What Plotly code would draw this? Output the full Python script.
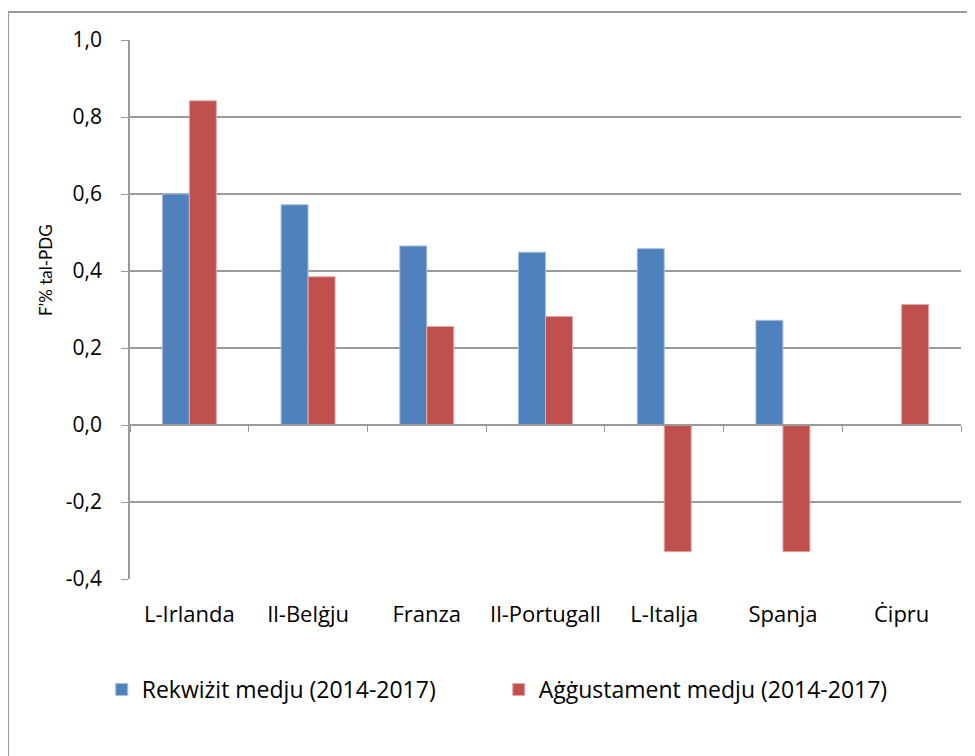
import plotly.graph_objects as go

categories = ["L-Irlanda", "Il-Belġju", "Franza", "Il-Portugall", "L-Italja", "Spanja", "Ċipru"]
rekwizit = [0.60, 0.572, 0.465, 0.449, 0.458, 0.272, None]
aggustament = [0.842, 0.385, 0.256, 0.282, -0.329, -0.329, 0.313]
series_names = ["Rekwiżit medju (2014-2017)", "Aġġustament medju (2014-2017)"]
y_ticks = [-0.4, -0.2, 0.0, 0.2, 0.4, 0.6, 0.8, 1.0]
y_tick_labels = ["-0,4", "-0,2", "0,0", "0,2", "0,4", "0,6", "0,8", "1,0"]

FONT = "Open Sans"
GRID = "#9a9a9a"

# page body has an 8px margin; size the figure to fit in the window
W, H = 967, 748
L, T = 122, 32
PW, PH = 831, 539

fig = go.Figure()
fig.add_trace(go.Bar(
    x=categories, y=rekwizit, name=series_names[0],
    marker=dict(color="#4F81BD", line=dict(color="#A9C0E0", width=1)),
))
fig.add_trace(go.Bar(
    x=categories, y=aggustament, name=series_names[1],
    marker=dict(color="#C0504D", line=dict(color="#E3A9A7", width=1)),
))
# helper (invisible) trace for a category-boundary axis drawn at y = 0
fig.add_trace(go.Scatter(
    x=[-0.5, len(categories) - 0.5], y=[0, 0], xaxis="x2", mode="lines",
    line=dict(width=0, color="rgba(0,0,0,0)"), showlegend=False, hoverinfo="skip",
))

ymin, ymax = y_ticks[0], y_ticks[-1]
zero_pos = (0 - ymin) / (ymax - ymin)

fig.update_layout(
    width=W, height=H,
    margin=dict(l=L, r=W - L - PW, t=T, b=H - T - PH, autoexpand=False),
    paper_bgcolor="white", plot_bgcolor="white",
    barmode="group", bargap=0.545, bargroupgap=0,
    font=dict(family=FONT, size=21, color="#000000"),
    xaxis=dict(
        type="category", categoryarray=categories,
        showgrid=False, showline=False, ticks="", zeroline=False,
        tickfont=dict(family=FONT, size=22), ticklabelstandoff=20,
        range=[-0.5, len(categories) - 0.5],
    ),
    xaxis2=dict(
        overlaying="x", anchor="free", position=zero_pos,
        range=[-0.5, len(categories) - 0.5],
        tickvals=[i - 0.5 for i in range(len(categories) + 1)],
        showticklabels=False, ticks="outside", ticklen=6, tickcolor=GRID,
        showline=True, linecolor=GRID, linewidth=1.5, showgrid=False, zeroline=False,
    ),
    yaxis=dict(
        range=[ymin, ymax], tickvals=y_ticks, ticktext=y_tick_labels,
        showgrid=True, gridcolor=GRID, gridwidth=1.5,
        zeroline=False, showline=True, linecolor=GRID, linewidth=1.5,
        ticks="outside", ticklen=7, tickcolor=GRID,
        tickfont=dict(family=FONT, size=21), ticklabelstandoff=15,
    ),
    legend=dict(
        orientation="h", x=-0.034, xanchor="left", y=-0.205, yanchor="middle",
        font=dict(family=FONT, size=23), entrywidth=352, entrywidthmode="pixels",
        bgcolor="rgba(0,0,0,0)",
    ),
    showlegend=True,
)

fig.add_annotation(
    text="F’% tal-PDG", xref="paper", yref="paper",
    x=(37 - L) / PW, y=(PH + T - 262) / PH, xanchor="center", yanchor="middle",
    textangle=-90, showarrow=False, font=dict(family="Lato", size=17),
)

# outer chart frame (top and left edges)
fx0 = (0 - L) / PW
fig.add_shape(type="line", xref="paper", yref="paper",
              x0=fx0, x1=(W + 5 - L) / PW, y0=(PH + T + 4 - 8) / PH, y1=(PH + T + 4 - 8) / PH,
              line=dict(color="#9a9a9a", width=2))
fig.add_shape(type="line", xref="paper", yref="paper",
              x0=fx0, x1=fx0, y0=(PH + T + 4 - 8) / PH, y1=(PH + T - H - 10) / PH,
              line=dict(color="#9a9a9a", width=2))

fig.write_html("out.html")
